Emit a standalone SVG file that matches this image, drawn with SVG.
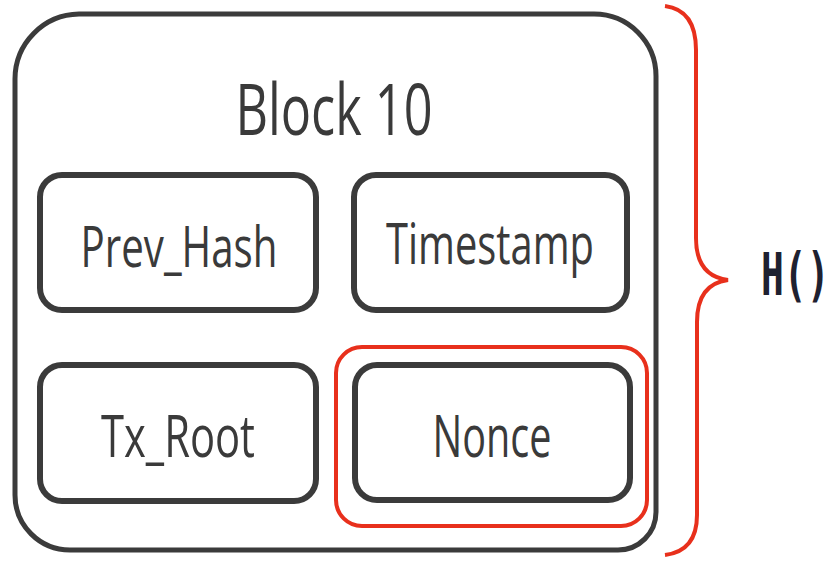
<svg xmlns="http://www.w3.org/2000/svg" width="838" height="561" viewBox="0 0 838 561">
<style>
.box{fill:none;stroke:#3b3b3b;stroke-width:6}
.outer{fill:none;stroke:#3b3b3b;stroke-width:5}
.red{fill:none;stroke:#e8301c;stroke-width:4}
.lbl{font-family:"Open Sans","Liberation Sans",sans-serif;fill:#3a3a3a;text-anchor:middle}
.h{font-family:"DejaVu Sans Mono","Liberation Mono",monospace;font-weight:bold;fill:#1e2130}
</style>
<rect width="838" height="561" fill="#ffffff"/>
<g id="block10">
<path class="outer" d="M79 14 H594 A62 62 0 0 1 656 76 V512 A38 38 0 0 1 618 550 H70 A55 55 0 0 1 15 495 V79 A65 65 0 0 1 79 14 Z"/>
<text class="lbl" x="334" y="135" font-size="72" textLength="197" lengthAdjust="spacingAndGlyphs">Block 10</text>
</g>
<g id="prev_hash">
<rect class="box" x="40" y="175" width="276" height="135" rx="22"/>
<text class="lbl" x="179" y="267" font-size="57" textLength="197" lengthAdjust="spacingAndGlyphs">Prev_Hash</text>
</g>
<g id="timestamp">
<rect class="box" x="354" y="175" width="273" height="135" rx="22"/>
<text class="lbl" x="490" y="264" font-size="57" textLength="208" lengthAdjust="spacingAndGlyphs">Timestamp</text>
</g>
<g id="tx_root">
<rect class="box" x="40" y="365" width="276" height="136" rx="22"/>
<text class="lbl" x="178" y="457" font-size="58" textLength="154" lengthAdjust="spacingAndGlyphs">Tx_Root</text>
</g>
<g id="nonce_highlight">
<rect class="red" x="336" y="347" width="311" height="179" rx="26"/>
</g>
<g id="nonce">
<rect class="box" x="355" y="365" width="275" height="135" rx="22"/>
<text class="lbl" x="492" y="457" font-size="58" textLength="119" lengthAdjust="spacingAndGlyphs">Nonce</text>
</g>
<g id="connectors">
<path class="red" d="M665 6 Q696 10 696 50 V238 Q696 276 728 280 Q697 284 697 322 V515 Q697 551 665 555"/>
</g>
<g id="hash">
<text class="h" transform="translate(761 295) scale(1 1.55)" x="0" y="0" font-size="38">H()</text>
</g>
</svg>
